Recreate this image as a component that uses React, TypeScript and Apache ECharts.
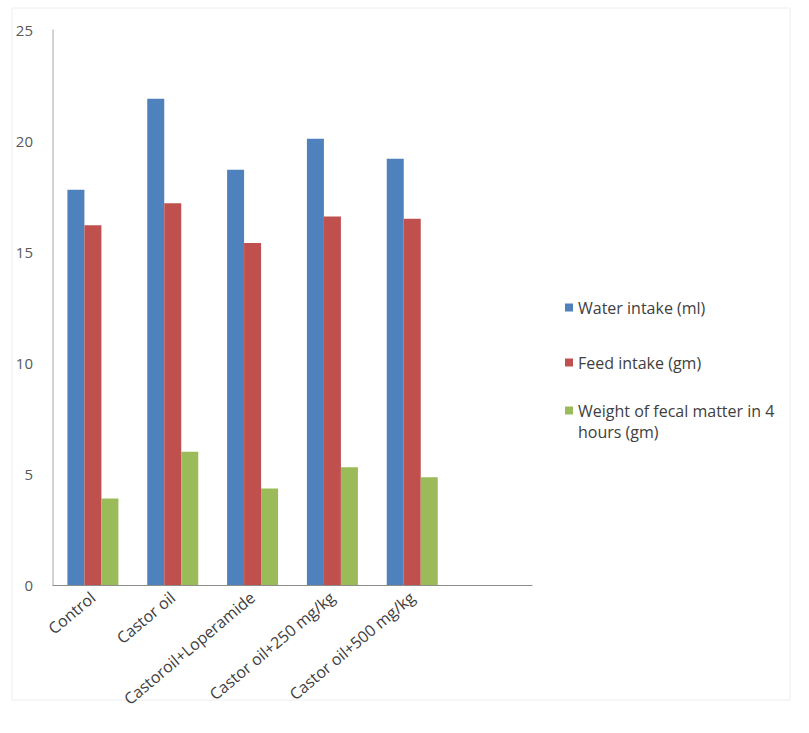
import React, { useEffect, useRef } from "react";
import * as echarts from "echarts";

const categories = [
  "Control",
  "Castor oil",
  "Castoroil+Loperamide",
  "Castor oil+250 mg/kg",
  "Castor oil+500 mg/kg",
];
const waterIntake = [17.8, 21.9, 18.7, 20.1, 19.2];
const feedIntake = [16.2, 17.2, 15.4, 16.6, 16.5];
const fecalWeight = [3.9, 6.0, 4.35, 5.3, 4.85];
const seriesNames = [
  "Water intake (ml)",
  "Feed intake (gm)",
  "Weight of fecal matter in 4 hours (gm)",
];
const colors = ["#4F81BD", "#C0504D", "#9BBB59"];

const FONT = "'Open Sans', 'Noto Sans', sans-serif";
const TEXT_COLOR = "#404040";

export default function App() {
  const ref = useRef<HTMLDivElement>(null);

  useEffect(() => {
    document.body.style.margin = "0";
    if (!ref.current) return;
    const chart = echarts.init(ref.current, undefined, { renderer: "svg" });
    const legendBase = {
      orient: "vertical",
      left: 565,
      padding: 0,
      itemWidth: 8,
      itemHeight: 8,
      icon: "rect",
      textStyle: {
        color: TEXT_COLOR,
        fontSize: 16,
        fontFamily: FONT,
        lineHeight: 21,
      },
    };
    chart.setOption({
      animation: false,
      backgroundColor: "#ffffff",
      color: colors,
      graphic: [
        {
          type: "rect",
          shape: { x: 12, y: 8, width: 778, height: 692 },
          style: { fill: "none", stroke: "#eeeeee", lineWidth: 1 },
          silent: true,
        },
      ],
      grid: { left: 53, top: 30, right: 277, bottom: 148, containLabel: false },
      legend: [
        { ...legendBase, top: 297, data: [seriesNames[0]] },
        { ...legendBase, top: 352, data: [seriesNames[1]] },
        {
          ...legendBase,
          top: 400,
          itemHeight: 29,
          icon: "path://M0,0L8,0L8,8L0,8Z M0,29L0.01,29L0.01,28.99Z",
          data: [seriesNames[2]],
          formatter: () => "Weight of fecal matter in 4\nhours (gm)",
        },
      ],
      xAxis: {
        type: "category",
        data: [...categories, ""],
        axisTick: { show: false },
        axisLine: { show: true, lineStyle: { color: "#8c8c8c", width: 1 } },
        axisLabel: {
          rotate: 40,
          interval: 0,
          margin: 10,
          color: TEXT_COLOR,
          fontSize: 16,
          fontFamily: FONT,
        },
      },
      yAxis: {
        type: "value",
        min: 0,
        max: 25,
        interval: 5,
        splitLine: { show: false },
        axisTick: { show: false },
        axisLine: { show: true, lineStyle: { color: "#c4c4c4", width: 1.5 } },
        axisLabel: {
          margin: 20,
          color: "#595959",
          fontSize: 15,
          fontFamily: FONT,
        },
      },
      series: [waterIntake, feedIntake, fecalWeight].map((d, i) => ({
        type: "bar",
        name: seriesNames[i],
        data: d,
        barWidth: 17,
        barGap: "0%",
        itemStyle: { color: colors[i] },
      })),
    });
    return () => chart.dispose();
  }, []);

  return <div ref={ref} style={{ width: 809, height: 733 }} />;
}
